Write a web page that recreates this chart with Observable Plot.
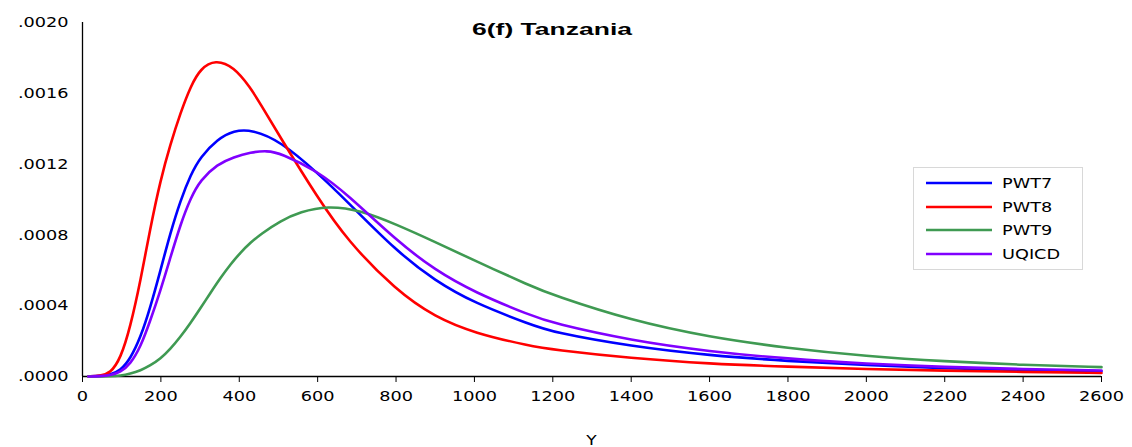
<!DOCTYPE html>
<html>
<head>
<meta charset="utf-8">
<script src="https://cdn.jsdelivr.net/npm/d3@7"></script>
<script src="https://cdn.jsdelivr.net/npm/@observablehq/plot@0.6"></script>
<style>
  html, body { margin: 0; padding: 0; background: #fff; }
  #chart svg { display: block; }
</style>
</head>
<body>
<div id="chart"></div>
<script>
// ---- Data ----
const title = "6(f) Tanzania";
const xLabel = "Y";
const seriesNames = ["PWT7", "PWT8", "PWT9", "UQICD"];
const seriesColors = ["#0000ff", "#ff0000", "#3f9a52", "#8000ff"];

const xTicks = [0, 200, 400, 600, 800, 1000, 1200, 1400, 1600, 1800, 2000, 2200, 2400, 2600];
const yTicks = [0, 0.0004, 0.0008, 0.0012, 0.0016, 0.0020];

const xPWT7 = [15, 45, 71, 97, 122, 148, 173, 199, 224, 250, 276, 301, 344, 386, 433, 505, 600, 675, 800, 900, 1000, 1143, 1200, 1400, 1600, 1800, 2000, 2200, 2400, 2600];
const yPWT7 = [0, 0.000003, 0.00001, 0.000034, 0.0001, 0.00022, 0.00039, 0.0006, 0.00081, 0.000995, 0.00114, 0.00124, 0.00134, 0.00139, 0.001395, 0.00133, 0.00115, 0.00099, 0.00071, 0.00054, 0.000415, 0.000294, 0.00025, 0.00017, 0.000119, 0.000087, 0.000064, 0.000046, 0.000036, 0.00003];

const xPWT8 = [15, 45, 71, 97, 122, 148, 173, 199, 224, 250, 276, 301, 339, 386, 429, 454, 505, 600, 675, 800, 900, 1000, 1143, 1200, 1400, 1600, 1800, 2000, 2200, 2400, 2600];
const yPWT8 = [0, 0.000003, 0.000019, 0.0001, 0.00028, 0.00054, 0.00084, 0.00111, 0.00131, 0.00149, 0.00164, 0.00174, 0.00179, 0.00175, 0.00163, 0.00154, 0.00135, 0.00101, 0.00077, 0.000486, 0.000335, 0.000245, 0.000172, 0.000152, 0.000103, 0.000072, 0.000055, 0.000042, 0.000033, 0.000026, 0.00002];

const xPWT9 = [15, 71, 97, 122, 148, 173, 199, 224, 250, 276, 301, 327, 352, 378, 403, 429, 454, 505, 556, 624, 709, 800, 900, 1000, 1143, 1200, 1400, 1600, 1800, 2000, 2200, 2400, 2600];
const yPWT9 = [0, 0.000001, 0.000004, 0.000015, 0.000034, 0.000062, 0.0001, 0.000155, 0.000224, 0.000303, 0.000386, 0.000474, 0.000557, 0.000635, 0.0007, 0.000757, 0.000803, 0.00088, 0.00093, 0.000965, 0.00094, 0.00086, 0.00076, 0.000655, 0.000512, 0.00046, 0.000316, 0.000222, 0.00016, 0.000115, 0.000085, 0.000065, 0.000053];

const xUQICD = [15, 45, 71, 97, 122, 148, 173, 199, 224, 250, 276, 301, 344, 386, 429, 471, 505, 600, 675, 800, 900, 1000, 1143, 1200, 1400, 1600, 1800, 2000, 2200, 2400, 2600];
const yUQICD = [0, 0.000002, 0.000006, 0.000024, 0.00007, 0.000166, 0.000316, 0.000486, 0.00067, 0.00086, 0.00101, 0.00111, 0.0012, 0.00124, 0.001267, 0.001276, 0.001262, 0.00116, 0.00103, 0.00077, 0.0006, 0.000476, 0.000345, 0.000301, 0.000203, 0.000141, 0.0001, 0.000072, 0.000053, 0.000042, 0.000034];

const seriesX = [xPWT7, xPWT8, xPWT9, xUQICD];
const seriesY = [yPWT7, yPWT8, yPWT9, yUQICD];

const rows = [];
seriesNames.forEach((name, i) => {
  seriesX[i].forEach((x, j) => rows.push({series: name, x, y: seriesY[i][j]}));
});

const W = 1132, H = 447;
const mL = 82, mR = 31, mT = 22, mB = 71;
const fmtY = d => d3.format(".4f")(d).replace(/^0/, "");

const chart = Plot.plot({
  width: W,
  height: H,
  marginLeft: mL,
  marginRight: mR,
  marginTop: mT,
  marginBottom: mB,
  style: {fontFamily: "'DejaVu Sans', Verdana, sans-serif", fontSize: "14.5px", background: "#fff", color: "#000"},
  x: {domain: [0, 2600]},
  y: {domain: [0, 0.002]},
  color: {domain: seriesNames, range: seriesColors},
  marks: [
    Plot.axisX({ticks: xTicks, tickSize: 6, tickPadding: 8, tickFormat: d => String(d), label: null, stroke: "#000"}),
    Plot.axisY({ticks: yTicks, tickSize: 0, tickPadding: 14, tickFormat: fmtY, label: null}),
    Plot.ruleX([0], {stroke: "#000", strokeWidth: 1.3}),
    Plot.ruleY([0], {stroke: "#000", strokeWidth: 1.3}),
    Plot.line(rows, {x: "x", y: "y", z: "series", stroke: "series", curve: "basis", strokeWidth: 2.6})
  ]
});

document.getElementById("chart").appendChild(chart);
const svg = d3.select(chart);

// Title
svg.append("text")
  .attr("class", "ttl")
  .attr("x", 552).attr("y", 35)
  .attr("text-anchor", "middle")
  .style("font-family", "'Liberation Sans', Arial, sans-serif")
  .style("font-weight", "bold")
  .style("font-size", "17px")
  .text(title);

// X axis label
svg.append("text")
  .attr("x", (mL + W - mR) / 2).attr("y", 445)
  .attr("text-anchor", "middle")
  .style("font-family", "'DejaVu Sans', Verdana, sans-serif")
  .style("font-size", "14px")
  .text(xLabel);

// Legend
const lg = svg.append("g");
lg.append("rect")
  .attr("x", 913.5).attr("y", 167.5).attr("width", 169).attr("height", 102)
  .attr("fill", "#fff").attr("stroke", "#d8d8d8").attr("stroke-width", 1);
const rowY = [183, 207, 230, 254];
seriesNames.forEach((name, i) => {
  lg.append("line")
    .attr("x1", 926).attr("x2", 992).attr("y1", rowY[i]).attr("y2", rowY[i])
    .attr("stroke", seriesColors[i]).attr("stroke-width", 2.6);
  lg.append("text")
    .attr("x", 1002).attr("y", rowY[i]).attr("dy", "0.36em")
    .attr("text-anchor", "start")
    .style("font-family", "'DejaVu Sans', Verdana, sans-serif")
    .style("font-size", "14.5px")
    .text(name);
});

// Horizontal stretch of the text glyphs to match the reference's wide lettering
chart.querySelectorAll("text").forEach(t => {
  if (t.classList.contains("ttl")) {
    t.setAttribute("textLength", 160);
  } else {
    const L = t.getComputedTextLength();
    if (L > 0) t.setAttribute("textLength", (L * 1.22).toFixed(1));
  }
  t.setAttribute("lengthAdjust", "spacingAndGlyphs");
});
</script>
</body>
</html>
